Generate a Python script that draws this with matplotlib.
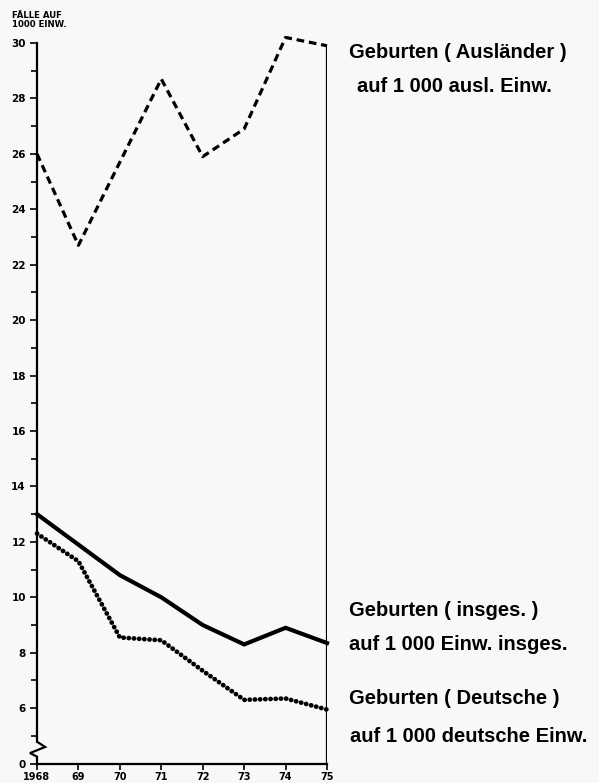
import numpy as np
import matplotlib.pyplot as plt
from matplotlib.transforms import blended_transform_factory
from matplotlib.ticker import FixedLocator

years = [1968, 1969, 1970, 1971, 1972, 1973, 1974, 1975]
year_labels = ["1968", "69", "70", "71", "72", "73", "74", "75"]
auslaender = [26.0, 22.7, 25.7, 28.7, 25.9, 26.9, 30.2, 29.9]
insgesamt = [13.0, 11.9, 10.8, 10.0, 9.0, 8.3, 8.9, 8.35]
deutsche = [12.3, 11.3, 8.55, 8.45, 7.35, 6.3, 6.35, 5.95]

# y-Achse ist unten gebrochen: Position 4 wird als "0" beschriftet
y_major = [4, 6, 8, 10, 12, 14, 16, 18, 20, 22, 24, 26, 28, 30]
y_labels = ["0", "6", "8", "10", "12", "14", "16", "18", "20", "22", "24", "26", "28", "30"]
y_minor = [5, 7, 9, 11, 13, 15, 17, 19, 21, 23, 25, 27, 29]

bg = '#f8f9f7'
fig = plt.figure(figsize=(5.99, 7.83), dpi=100, facecolor=bg)
ax = fig.add_axes([37 / 599, 19.4 / 783, 290 / 599, 720.6 / 783], facecolor=bg)

ax.plot(years, auslaender, color='black', lw=2.3, linestyle=(0, (2.4, 1.5)), clip_on=False)
ax.plot(years, insgesamt, color='black', lw=3.0, solid_joinstyle='miter', clip_on=False)
ax.plot(years, deutsche, color='black', lw=3.4, linestyle=(0, (0.05, 1.05)),
        dash_capstyle='round', clip_on=False)

# rechte senkrechte Linie bei 1975 bis zum Endpunkt der Ausländer-Kurve
ax.vlines(years[-1], 4, auslaender[-1], color='black', lw=1.6)

ax.set_xlim(years[0], years[-1])
ax.set_ylim(4, 30)

for s in ['top', 'right', 'left']:
    ax.spines[s].set_visible(False)
ax.spines['bottom'].set_linewidth(1.6)

# linke Achse mit Bruch-Zickzack
tr = blended_transform_factory(ax.transAxes, ax.transData)
ax.plot([0, 0, 0.028, -0.024, 0, 0], [30, 4.79, 4.6, 4.38, 4.25, 4],
        color='black', lw=1.6, transform=tr, clip_on=False, solid_joinstyle='miter')

ax.yaxis.set_major_locator(FixedLocator(y_major))
ax.set_yticklabels(y_labels)
ax.yaxis.set_minor_locator(FixedLocator(y_minor))
ax.set_xticks(years)
ax.set_xticklabels(year_labels)
ax.tick_params(axis='y', which='major', length=5, width=1.2, labelsize=7.5, pad=3)
ax.tick_params(axis='y', which='minor', length=4, width=1.2)
ax.tick_params(axis='x', length=4, width=1.2, labelsize=7, pad=2)
for lab in ax.get_xticklabels() + ax.get_yticklabels():
    lab.set_fontweight('bold')

fig.text(12 / 599, 1 - 20 / 783, "FÄLLE AUF\n1000 EINW.", fontsize=6.2, fontweight='bold',
         ha='left', va='center', linespacing=1.0, family='DejaVu Sans Condensed')

txt = dict(fontsize=14.5, fontweight='bold', family='Liberation Sans', ha='left', va='center')
fig.text(349 / 599, 1 - 52 / 783, "Geburten ( Ausländer )", **txt)
fig.text(357 / 599, 1 - 87 / 783, "auf 1 000 ausl. Einw.", **txt)
fig.text(349 / 599, 1 - 611 / 783, "Geburten ( insges. )", **txt)
fig.text(349 / 599, 1 - 645 / 783, "auf 1 000 Einw. insges.", **txt)
fig.text(349 / 599, 1 - 698 / 783, "Geburten ( Deutsche )", **txt)
fig.text(350 / 599, 1 - 736 / 783, "auf 1 000 deutsche Einw.", **txt)

fig.savefig('out.png', dpi=100, facecolor=bg)
